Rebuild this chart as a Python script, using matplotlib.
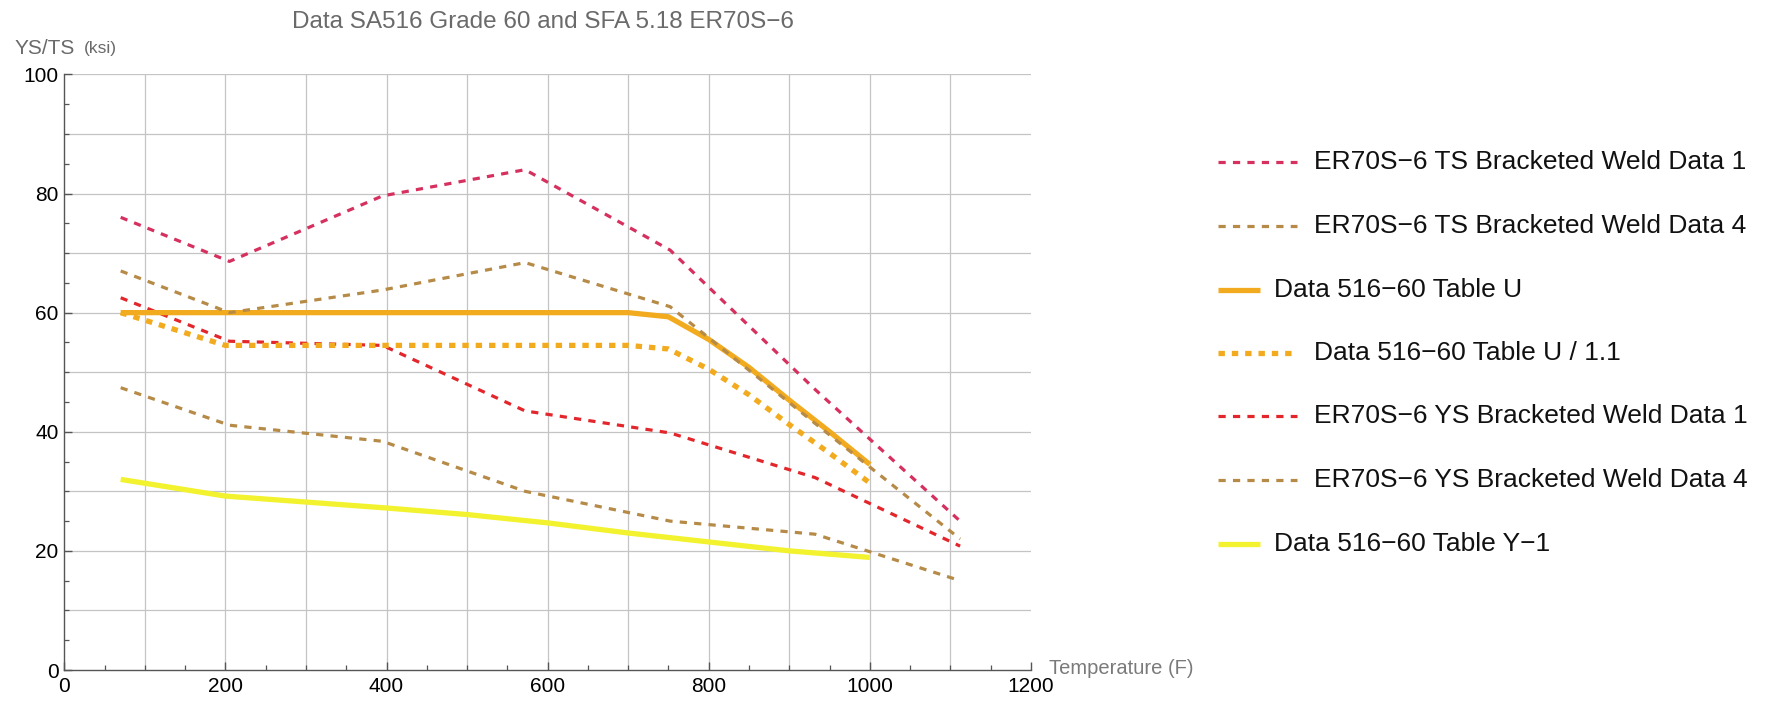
import numpy as np
import matplotlib
matplotlib.use("Agg")
import matplotlib.pyplot as plt
from matplotlib.ticker import MultipleLocator

plt.rcParams["font.family"] = ["Liberation Sans", "DejaVu Sans"]
plt.rcParams["lines.scale_dashes"] = False

# ── data (temperature in F, strength in ksi) ─────────────────────────────────

WELD_T = [70, 205, 395, 572, 752, 932, 1112]
TS_WELD_1 = [76.0, 68.6, 79.6, 84.0, 70.5, 47.1, 25.0]
TS_WELD_4 = [67.0, 60.0, 63.8, 68.4, 61.0, 41.4, 22.0]
YS_WELD_1 = [62.5, 55.2, 54.5, 43.5, 39.8, 32.3, 20.8]
YS_WELD_4 = [47.4, 41.1, 38.4, 30.0, 25.0, 22.8, 15.0]

TABLE_U_T = [70, 100, 200, 300, 400, 500, 600, 650, 700, 750, 800, 850, 900, 950, 1000]
TABLE_U = [60.0, 60.0, 60.0, 60.0, 60.0, 60.0, 60.0, 60.0, 60.0, 59.3, 55.5, 50.8, 45.3, 40.0, 34.5]

TABLE_U11_T = [70, 200, 300, 400, 500, 600, 650, 700, 750, 800, 850, 900, 950, 1000]
TABLE_U11 = [60.0, 54.5, 54.5, 54.5, 54.5, 54.5, 54.5, 54.5, 53.9, 50.5, 46.2, 41.2, 36.4, 31.4]

TABLE_Y1_T = [70, 200, 300, 400, 500, 600, 700, 800, 900, 1000]
TABLE_Y1 = [32.0, 29.2, 28.2, 27.2, 26.1, 24.7, 23.0, 21.5, 20.0, 18.9]

# ── styles ───────────────────────────────────────────────────────────────────

C_PINK = "#d6305f"
C_RED = "#e3262b"
C_TAN = "#b68a47"
C_ORANGE = "#f2ab1e"
C_YELLOW = "#f2f22e"

DASH = dict(lw=2.3, linestyle=(0, (5.2, 5.2)))
DOTS = dict(lw=3.8, linestyle=(0, (4.6, 5.0)))
SOLID = dict(lw=3.8, linestyle="-", solid_capstyle="butt")

SERIES = [
    ("ER70S\u22126 TS Bracketed Weld Data 1", WELD_T, TS_WELD_1, C_PINK, DASH),
    ("ER70S\u22126 TS Bracketed Weld Data 4", WELD_T, TS_WELD_4, C_TAN, DASH),
    ("Data 516\u221260 Table U", TABLE_U_T, TABLE_U, C_ORANGE, SOLID),
    ("Data 516\u221260 Table U / 1.1", TABLE_U11_T, TABLE_U11, C_ORANGE, DOTS),
    ("ER70S\u22126 YS Bracketed Weld Data 1", WELD_T, YS_WELD_1, C_RED, DASH),
    ("ER70S\u22126 YS Bracketed Weld Data 4", WELD_T, YS_WELD_4, C_TAN, DASH),
    ("Data 516\u221260 Table Y\u22121", TABLE_Y1_T, TABLE_Y1, C_YELLOW, SOLID),
]

W, H = 1768, 722
fig = plt.figure(figsize=(W / 100, H / 100), dpi=100)
ax = fig.add_axes([64.3 / W, 1 - 670 / H, (1031 - 64.3) / W, (670 - 74.4) / H])

# grid every 100 F / 10 ksi
for gx in np.arange(100, 1200, 100):
    ax.axvline(gx, color="#c4c4c4", lw=0.9, zorder=0)
for gy in np.arange(10, 101, 10):
    ax.axhline(gy, color="#c4c4c4", lw=0.9, zorder=0)

# draw in reverse so the first series sits on top
for label, xs, ys, colour, style in reversed(SERIES):
    ax.plot(xs, ys, color=colour, label=label, **style)

ax.set_xlim(0, 1200)
ax.set_ylim(0, 100)
ax.xaxis.set_major_locator(MultipleLocator(200))
ax.xaxis.set_minor_locator(MultipleLocator(50))
ax.yaxis.set_major_locator(MultipleLocator(20))
ax.yaxis.set_minor_locator(MultipleLocator(5))
ax.tick_params(which="both", direction="in", color="#555555", labelsize=15)
ax.tick_params(which="major", length=6, width=1.0)
ax.tick_params(which="minor", length=3.5, width=0.9)
ax.tick_params(axis="x", pad=5)
ax.tick_params(axis="y", pad=4)
for side in ("top", "right"):
    ax.spines[side].set_visible(False)
for side in ("left", "bottom"):
    ax.spines[side].set_color("#555555")
    ax.spines[side].set_linewidth(1.0)

# labels, title
fig.text(15 / W, 1 - 48 / H, "YS/TS", fontsize=15, color="#6a6a6a", va="center", ha="left")
fig.text(84 / W, 1 - 48 / H, "(ksi)", fontsize=12.5, color="#6a6a6a", va="center", ha="left")
fig.text(1049 / W, 1 - 668 / H, "Temperature (F)", fontsize=14.5, color="#7a7a7a",
         va="center", ha="left")
fig.text(543 / W, 1 - 22 / H, "Data SA516 Grade 60 and SFA 5.18 ER70S\u22126",
         fontsize=17.5, color="#6a6a6a", va="center", ha="center")

# legend drawn on an overlay in pixel space
leg = fig.add_axes([0, 0, 1, 1], facecolor="none")
leg.set_xlim(0, W)
leg.set_ylim(H, 0)
leg.axis("off")
row_y = [162, 226, 290, 353, 416, 480, 544]
for (label, _, _, colour, style), y in zip(SERIES, row_y):
    if style is SOLID:
        x0, x1, tx = 1218, 1260, 1274
    else:
        x0, x1, tx = 1218, 1297, 1314
    leg.plot([x0, x1], [y, y], color=colour, **style)
    leg.text(tx, y, label, fontsize=19, color="#111111", va="center", ha="left")

fig.savefig("out.png", dpi=100)
